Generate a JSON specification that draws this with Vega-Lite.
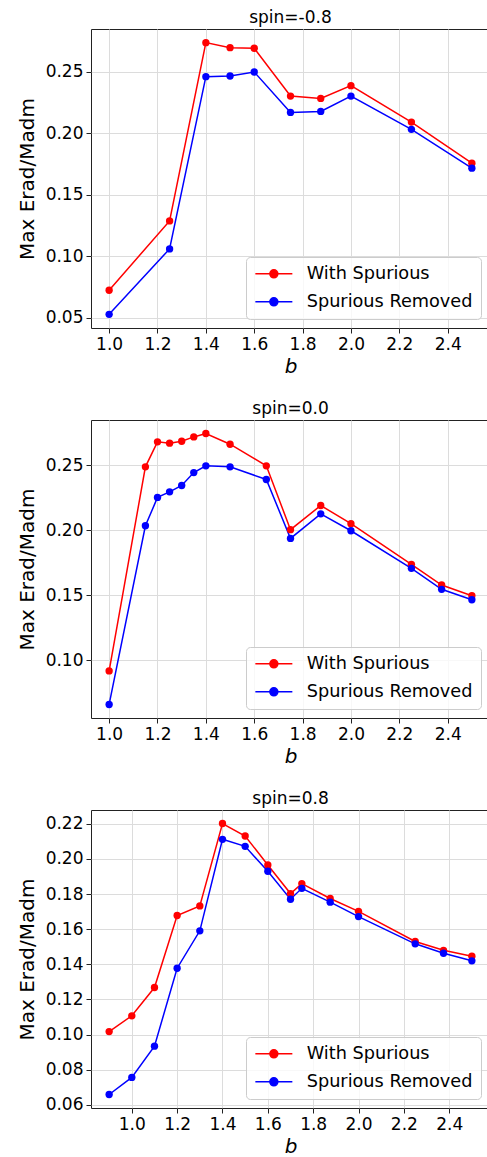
{
  "$schema": "https://vega.github.io/schema/vega-lite/v6.json",
  "padding": {"left": 16, "top": 8, "right": 0, "bottom": 0},
  "datasets": {
    "runs": [
      {"spin": -0.8, "series": "With Spurious", "b": 1.0, "value": 0.0723},
      {"spin": -0.8, "series": "With Spurious", "b": 1.25, "value": 0.1288},
      {"spin": -0.8, "series": "With Spurious", "b": 1.4, "value": 0.2739},
      {"spin": -0.8, "series": "With Spurious", "b": 1.5, "value": 0.2698},
      {"spin": -0.8, "series": "With Spurious", "b": 1.6, "value": 0.2693},
      {"spin": -0.8, "series": "With Spurious", "b": 1.75, "value": 0.2304},
      {"spin": -0.8, "series": "With Spurious", "b": 1.875, "value": 0.2285},
      {"spin": -0.8, "series": "With Spurious", "b": 2.0, "value": 0.2389},
      {"spin": -0.8, "series": "With Spurious", "b": 2.25, "value": 0.2092},
      {"spin": -0.8, "series": "With Spurious", "b": 2.5, "value": 0.1758},
      {"spin": -0.8, "series": "Spurious Removed", "b": 1.0, "value": 0.0527},
      {"spin": -0.8, "series": "Spurious Removed", "b": 1.25, "value": 0.1060},
      {"spin": -0.8, "series": "Spurious Removed", "b": 1.4, "value": 0.2462},
      {"spin": -0.8, "series": "Spurious Removed", "b": 1.5, "value": 0.2467},
      {"spin": -0.8, "series": "Spurious Removed", "b": 1.6, "value": 0.2500},
      {"spin": -0.8, "series": "Spurious Removed", "b": 1.75, "value": 0.2171},
      {"spin": -0.8, "series": "Spurious Removed", "b": 1.875, "value": 0.2179},
      {"spin": -0.8, "series": "Spurious Removed", "b": 2.0, "value": 0.2304},
      {"spin": -0.8, "series": "Spurious Removed", "b": 2.25, "value": 0.2033},
      {"spin": -0.8, "series": "Spurious Removed", "b": 2.5, "value": 0.1717},
      {"spin": 0.0, "series": "With Spurious", "b": 1.0, "value": 0.0918},
      {"spin": 0.0, "series": "With Spurious", "b": 1.15, "value": 0.2486},
      {"spin": 0.0, "series": "With Spurious", "b": 1.2, "value": 0.2678},
      {"spin": 0.0, "series": "With Spurious", "b": 1.25, "value": 0.2668},
      {"spin": 0.0, "series": "With Spurious", "b": 1.3, "value": 0.2683},
      {"spin": 0.0, "series": "With Spurious", "b": 1.35, "value": 0.2716},
      {"spin": 0.0, "series": "With Spurious", "b": 1.4, "value": 0.2742},
      {"spin": 0.0, "series": "With Spurious", "b": 1.5, "value": 0.2660},
      {"spin": 0.0, "series": "With Spurious", "b": 1.65, "value": 0.2494},
      {"spin": 0.0, "series": "With Spurious", "b": 1.75, "value": 0.2003},
      {"spin": 0.0, "series": "With Spurious", "b": 1.875, "value": 0.2189},
      {"spin": 0.0, "series": "With Spurious", "b": 2.0, "value": 0.2049},
      {"spin": 0.0, "series": "With Spurious", "b": 2.25, "value": 0.1737},
      {"spin": 0.0, "series": "With Spurious", "b": 2.375, "value": 0.1578},
      {"spin": 0.0, "series": "With Spurious", "b": 2.5, "value": 0.1496},
      {"spin": 0.0, "series": "Spurious Removed", "b": 1.0, "value": 0.0660},
      {"spin": 0.0, "series": "Spurious Removed", "b": 1.15, "value": 0.2033},
      {"spin": 0.0, "series": "Spurious Removed", "b": 1.2, "value": 0.2251},
      {"spin": 0.0, "series": "Spurious Removed", "b": 1.25, "value": 0.2294},
      {"spin": 0.0, "series": "Spurious Removed", "b": 1.3, "value": 0.2343},
      {"spin": 0.0, "series": "Spurious Removed", "b": 1.35, "value": 0.2442},
      {"spin": 0.0, "series": "Spurious Removed", "b": 1.4, "value": 0.2494},
      {"spin": 0.0, "series": "Spurious Removed", "b": 1.5, "value": 0.2486},
      {"spin": 0.0, "series": "Spurious Removed", "b": 1.65, "value": 0.2389},
      {"spin": 0.0, "series": "Spurious Removed", "b": 1.75, "value": 0.1936},
      {"spin": 0.0, "series": "Spurious Removed", "b": 1.875, "value": 0.2125},
      {"spin": 0.0, "series": "Spurious Removed", "b": 2.0, "value": 0.1995},
      {"spin": 0.0, "series": "Spurious Removed", "b": 2.25, "value": 0.1706},
      {"spin": 0.0, "series": "Spurious Removed", "b": 2.375, "value": 0.1545},
      {"spin": 0.0, "series": "Spurious Removed", "b": 2.5, "value": 0.1465},
      {"spin": 0.8, "series": "With Spurious", "b": 0.9, "value": 0.1017},
      {"spin": 0.8, "series": "With Spurious", "b": 1.0, "value": 0.1107},
      {"spin": 0.8, "series": "With Spurious", "b": 1.1, "value": 0.1268},
      {"spin": 0.8, "series": "With Spurious", "b": 1.2, "value": 0.1678},
      {"spin": 0.8, "series": "With Spurious", "b": 1.3, "value": 0.1733},
      {"spin": 0.8, "series": "With Spurious", "b": 1.4, "value": 0.2202},
      {"spin": 0.8, "series": "With Spurious", "b": 1.5, "value": 0.2131},
      {"spin": 0.8, "series": "With Spurious", "b": 1.6, "value": 0.1966},
      {"spin": 0.8, "series": "With Spurious", "b": 1.7, "value": 0.1803},
      {"spin": 0.8, "series": "With Spurious", "b": 1.75, "value": 0.1860},
      {"spin": 0.8, "series": "With Spurious", "b": 1.875, "value": 0.1775},
      {"spin": 0.8, "series": "With Spurious", "b": 2.0, "value": 0.1702},
      {"spin": 0.8, "series": "With Spurious", "b": 2.25, "value": 0.1530},
      {"spin": 0.8, "series": "With Spurious", "b": 2.375, "value": 0.1480},
      {"spin": 0.8, "series": "With Spurious", "b": 2.5, "value": 0.1446},
      {"spin": 0.8, "series": "Spurious Removed", "b": 0.9, "value": 0.0659},
      {"spin": 0.8, "series": "Spurious Removed", "b": 1.0, "value": 0.0756},
      {"spin": 0.8, "series": "Spurious Removed", "b": 1.1, "value": 0.0934},
      {"spin": 0.8, "series": "Spurious Removed", "b": 1.2, "value": 0.1378},
      {"spin": 0.8, "series": "Spurious Removed", "b": 1.3, "value": 0.1591},
      {"spin": 0.8, "series": "Spurious Removed", "b": 1.4, "value": 0.2112},
      {"spin": 0.8, "series": "Spurious Removed", "b": 1.5, "value": 0.2072},
      {"spin": 0.8, "series": "Spurious Removed", "b": 1.6, "value": 0.1930},
      {"spin": 0.8, "series": "Spurious Removed", "b": 1.7, "value": 0.1771},
      {"spin": 0.8, "series": "Spurious Removed", "b": 1.75, "value": 0.1833},
      {"spin": 0.8, "series": "Spurious Removed", "b": 1.875, "value": 0.1754},
      {"spin": 0.8, "series": "Spurious Removed", "b": 2.0, "value": 0.1672},
      {"spin": 0.8, "series": "Spurious Removed", "b": 2.25, "value": 0.1517},
      {"spin": 0.8, "series": "Spurious Removed", "b": 2.375, "value": 0.1463},
      {"spin": 0.8, "series": "Spurious Removed", "b": 2.5, "value": 0.1420}
    ]
  },
  "data": {"name": "runs"},
  "spacing": 22,
  "resolve": {"legend": {"color": "independent"}},
  "vconcat": [
    {
      "title": {"text": "spin=-0.8"},
      "width": 399,
      "height": 299,
      "transform": [{"filter": "datum.spin == -0.8"}],
      "encoding": {
        "x": {"field": "b", "type": "quantitative", "title": "b",
              "scale": {"domain": [0.925, 2.575], "nice": false, "zero": false},
              "axis": {"values": [1.0, 1.2, 1.4, 1.6, 1.8, 2.0, 2.2, 2.4], "format": ".1f"}},
        "y": {"field": "value", "type": "quantitative", "title": "Max Erad/Madm",
              "scale": {"domain": [0.0416, 0.285], "nice": false, "zero": false},
              "axis": {"values": [0.05, 0.10, 0.15, 0.20, 0.25], "format": ".2f"}},
        "color": {"field": "series", "type": "nominal",
                  "scale": {"domain": ["With Spurious", "Spurious Removed"], "range": ["#ff0000", "#0000ff"]}}
      },
      "layer": [
        {"mark": {"type": "line", "strokeWidth": 1.5}},
        {"mark": {"type": "point", "filled": true, "size": 54, "opacity": 1}}
      ]
    },
    {
      "title": {"text": "spin=0.0"},
      "width": 399,
      "height": 298,
      "transform": [{"filter": "datum.spin == 0"}],
      "encoding": {
        "x": {"field": "b", "type": "quantitative", "title": "b",
              "scale": {"domain": [0.925, 2.575], "nice": false, "zero": false},
              "axis": {"values": [1.0, 1.2, 1.4, 1.6, 1.8, 2.0, 2.2, 2.4], "format": ".1f"}},
        "y": {"field": "value", "type": "quantitative", "title": "Max Erad/Madm",
              "scale": {"domain": [0.0556, 0.2846], "nice": false, "zero": false},
              "axis": {"values": [0.10, 0.15, 0.20, 0.25], "format": ".2f"}},
        "color": {"field": "series", "type": "nominal",
                  "scale": {"domain": ["With Spurious", "Spurious Removed"], "range": ["#ff0000", "#0000ff"]}}
      },
      "layer": [
        {"mark": {"type": "line", "strokeWidth": 1.5}},
        {"mark": {"type": "point", "filled": true, "size": 54, "opacity": 1}}
      ]
    },
    {
      "title": {"text": "spin=0.8"},
      "width": 399,
      "height": 298,
      "transform": [{"filter": "datum.spin == 0.8"}],
      "encoding": {
        "x": {"field": "b", "type": "quantitative", "title": "b",
              "scale": {"domain": [0.82, 2.58], "nice": false, "zero": false},
              "axis": {"values": [1.0, 1.2, 1.4, 1.6, 1.8, 2.0, 2.2, 2.4], "format": ".1f"}},
        "y": {"field": "value", "type": "quantitative", "title": "Max Erad/Madm",
              "scale": {"domain": [0.0582, 0.2279], "nice": false, "zero": false},
              "axis": {"values": [0.06, 0.08, 0.10, 0.12, 0.14, 0.16, 0.18, 0.20, 0.22], "format": ".2f"}},
        "color": {"field": "series", "type": "nominal",
                  "scale": {"domain": ["With Spurious", "Spurious Removed"], "range": ["#ff0000", "#0000ff"]}}
      },
      "layer": [
        {"mark": {"type": "line", "strokeWidth": 1.5}},
        {"mark": {"type": "point", "filled": true, "size": 54, "opacity": 1}}
      ]
    }
  ],
  "config": {
    "font": "DejaVu Sans",
    "view": {"stroke": "#222222", "strokeWidth": 1},
    "title": {"fontSize": 17, "fontWeight": "normal", "color": "#000000", "offset": 2, "anchor": "middle"},
    "axis": {
      "domain": false,
      "grid": true,
      "gridColor": "#dcdcdc",
      "gridWidth": 1,
      "tickColor": "#222222",
      "tickSize": 5,
      "labelFontSize": 17,
      "labelColor": "#000000",
      "labelPadding": 3,
      "titleFontSize": 20,
      "titleFontWeight": "normal",
      "titleColor": "#000000"
    },
    "axisX": {"titleFontStyle": "italic", "titlePadding": 4},
    "axisY": {"titlePadding": 8},
    "legend": {
      "title": null,
      "orient": "bottom-right",
      "offset": 9,
      "padding": 8,
      "strokeColor": "#cccccc",
      "fillColor": "rgba(255,255,255,0.8)",
      "cornerRadius": 4,
      "labelFontSize": 17.7,
      "labelLimit": 400,
      "labelColor": "#000000",
      "labelOffset": 35,
      "rowPadding": 9,
      "symbolType": "M-1,0L3.933,0M0.933,0A0.533,0.533,0,1,1,2,0A0.533,0.533,0,1,1,0.933,0Z",
      "symbolSize": 225,
      "symbolStrokeWidth": 1.5,
      "symbolOpacity": 1
    }
  }
}
